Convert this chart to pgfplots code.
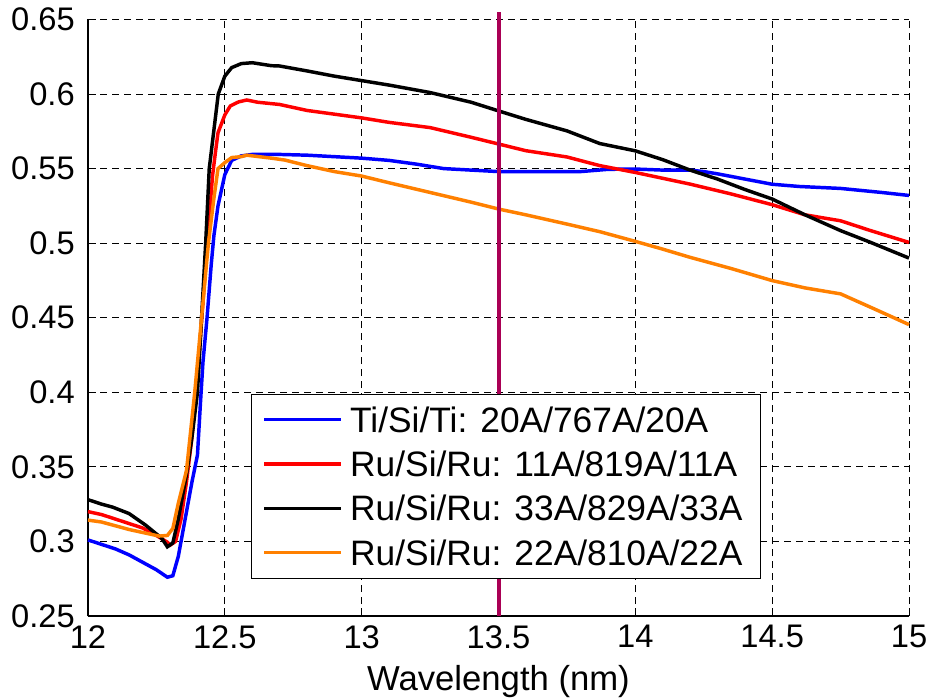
\documentclass[border=0pt]{standalone}
\usepackage{fontspec}
\setmainfont{Liberation Sans}
\usepackage{pgfplots}
\pgfplotsset{compat=1.18}

\definecolor{tiblue}{RGB}{0,0,255}
\definecolor{rured}{RGB}{255,0,0}
\definecolor{ruorange}{RGB}{255,128,0}
\definecolor{cutline}{RGB}{170,0,85}

\begin{document}
\begin{tikzpicture}
\begin{axis}[
  name=main,
  scale only axis,
  width=615.75pt, height=447.4pt,
  xmin=12, xmax=15, ymin=0.25, ymax=0.65,
  xtick={12,12.5,13,13.5,14,14.5,15},
  ytick={0.25,0.3,0.35,0.4,0.45,0.5,0.55,0.6,0.65},
  axis x line*=bottom, axis y line*=left,
  axis line style={-, line width=0.8pt, black},
  tick align=inside, major tick length=6pt,
  tick style={black, line width=0.6pt},
  grid=major,
  major grid style={black, line width=0.6pt, dash pattern=on 5.5pt off 3.5pt},
  /pgf/number format/assume math mode=true,
  /pgf/number format/fixed,
  ticklabel style={font=\fontsize{24.5}{28}\selectfont},
  yticklabel style={inner xsep=0pt, xshift=-9.75pt},
  xticklabel style={inner ysep=0pt, yshift=-6.75pt},
  xlabel={Wavelength (nm)},
  every axis x label/.style={at={(axis description cs:0.5,0)}, anchor=base,
    yshift=-56pt, font=\fontsize{26}{30}\selectfont},
  clip=false,
  every axis plot/.append style={line width=2.6pt},
  legend cell align=left,
  legend image code/.code={\draw[#1] (0pt,0pt) -- (57.5pt,0pt);},
  legend style={
    at={(axis cs:12.596,0.3991)}, anchor=north west,
    draw=black, line width=0.75pt, fill=white,
    font=\fontsize{26.5}{30}\selectfont,
    inner xsep=8pt, inner ysep=6.5pt,
    column sep=0pt, row sep=8.3pt,
    nodes={inner xsep=5.85pt, inner ysep=0pt, text height=22pt, text depth=3pt},
  },
]

\addplot[tiblue] coordinates {
(12.00,0.301) (12.05,0.298) (12.10,0.295) (12.15,0.291) (12.20,0.286)
(12.25,0.281) (12.29,0.276) (12.31,0.277) (12.33,0.290) (12.36,0.320)
(12.38,0.340) (12.40,0.358) (12.41,0.390) (12.42,0.420) (12.435,0.450)
(12.45,0.485) (12.46,0.505) (12.475,0.525) (12.50,0.546) (12.525,0.5555)
(12.56,0.5585) (12.60,0.5595) (12.70,0.5595) (12.80,0.559) (12.90,0.558)
(13.00,0.557) (13.10,0.5555) (13.20,0.553) (13.30,0.550) (13.40,0.549)
(13.50,0.548) (13.60,0.548) (13.70,0.548) (13.80,0.548) (13.90,0.5495)
(14.00,0.5497) (14.10,0.549) (14.20,0.549) (14.25,0.548) (14.30,0.5465)
(14.40,0.543) (14.50,0.5395) (14.60,0.538) (14.75,0.5367) (14.90,0.534)
(15.00,0.532)
};
\addlegendentry{Ti/Si/Ti: 20A/767A/20A}

\addplot[rured] coordinates {
(12.00,0.320) (12.05,0.318) (12.10,0.315) (12.15,0.312) (12.20,0.309)
(12.25,0.304) (12.29,0.2995) (12.30,0.2975) (12.32,0.300) (12.34,0.315)
(12.36,0.340) (12.38,0.370) (12.40,0.410) (12.42,0.460) (12.44,0.510)
(12.455,0.545) (12.465,0.560) (12.475,0.574) (12.50,0.586) (12.52,0.592)
(12.55,0.5947) (12.58,0.596) (12.62,0.5945) (12.70,0.593) (12.80,0.589)
(12.90,0.5865) (13.00,0.584) (13.10,0.581) (13.25,0.5775) (13.40,0.571)
(13.50,0.5665) (13.60,0.562) (13.75,0.5578) (13.87,0.552) (14.00,0.5474)
(14.10,0.5435) (14.20,0.5396) (14.35,0.533) (14.50,0.5258) (14.62,0.519)
(14.75,0.515) (14.86,0.5084) (15.00,0.5005)
};
\addlegendentry{Ru/Si/Ru: 11A/819A/11A}

\addplot[black] coordinates {
(12.00,0.328) (12.05,0.325) (12.09,0.323) (12.15,0.3187) (12.21,0.311)
(12.27,0.302) (12.29,0.2964) (12.31,0.299) (12.33,0.315) (12.36,0.345)
(12.38,0.370) (12.40,0.400) (12.415,0.450) (12.43,0.500) (12.443,0.550)
(12.476,0.600) (12.50,0.612) (12.525,0.6177) (12.56,0.6204) (12.60,0.621)
(12.67,0.619) (12.70,0.6188) (12.80,0.6155) (12.90,0.612) (13.00,0.609)
(13.10,0.606) (13.25,0.601) (13.40,0.5945) (13.50,0.5887) (13.60,0.583)
(13.75,0.5753) (13.87,0.5668) (14.00,0.5619) (14.10,0.556) (14.20,0.549)
(14.30,0.543) (14.40,0.536) (14.50,0.5296) (14.62,0.519) (14.75,0.5084)
(14.86,0.5005) (15.00,0.490)
};
\addlegendentry{Ru/Si/Ru: 33A/829A/33A}

\addplot[ruorange] coordinates {
(12.00,0.3143) (12.05,0.313) (12.09,0.311) (12.15,0.308) (12.215,0.3054)
(12.26,0.3036) (12.29,0.304) (12.31,0.3087) (12.33,0.3256) (12.36,0.3477)
(12.39,0.400) (12.415,0.450) (12.44,0.500) (12.46,0.530) (12.475,0.550)
(12.50,0.554) (12.525,0.5574) (12.56,0.558) (12.58,0.559) (12.67,0.557)
(12.72,0.5557) (12.80,0.552) (12.90,0.548) (13.00,0.545) (13.10,0.5405)
(13.25,0.534) (13.40,0.5275) (13.50,0.5229) (13.60,0.519) (13.75,0.5128)
(13.87,0.5077) (14.00,0.5012) (14.10,0.496) (14.20,0.4905) (14.35,0.483)
(14.50,0.4749) (14.62,0.470) (14.75,0.466) (14.86,0.457) (15.00,0.4454)
};
\addlegendentry{Ru/Si/Ru: 22A/810A/22A}

% marker at 13.5 nm
\addplot[cutline, line width=3pt, forget plot] coordinates {(13.5,0.25) (13.5,0.655)};

\end{axis}
\pgfresetboundingbox
\path[use as bounding box] ([shift={(-66pt,-60.75pt)}]main.south west) rectangle ([shift={(15.75pt,14.6pt)}]main.north east);
\end{tikzpicture}
\end{document}
